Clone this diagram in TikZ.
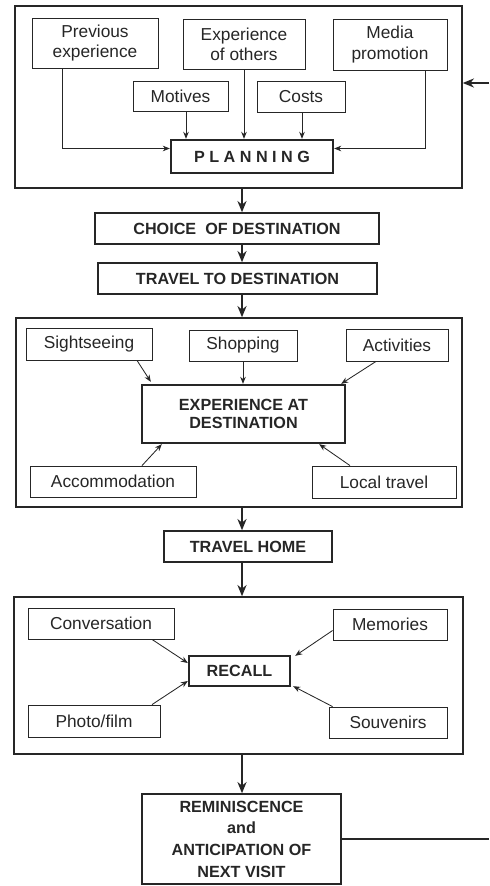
\documentclass[tikz,border=0pt]{standalone}
\usepackage{fontspec}
\setmainfont{Liberation Sans}
\usetikzlibrary{arrows.meta,positioning,calc}
\newlength{\px}\setlength{\px}{0.025cm}
\colorlet{ink}{black!85}

\begin{document}
\begin{tikzpicture}[x=\px,y=-\px,
    every node/.style={text=ink, align=center, inner sep=0pt},
    sz/.style 2 args={minimum width=#1\px, minimum height=#2\px},
    item/.style={draw=ink, line width=0.6pt, font=\fontsize{12.3}{14.3}\selectfont},
    stage/.style={draw=ink, line width=1.1pt, font=\fontsize{11.5}{13}\selectfont\bfseries},
    core/.style={stage, line width=1.7pt},
    frame/.style={draw=ink, line width=1.1pt},
    flow/.style={draw=ink, line width=1.1pt, -{Stealth[length=8pt,width=6.5pt]}},
    feed/.style={draw=ink, line width=0.6pt, -{Stealth[length=5pt,width=4pt]}}]
    \useasboundingbox (0,0) rectangle (489,886);
    \coordinate (spine) at (242,0);

    % Planning
    \node[frame, sz={447}{182}] (planframe) at (238.5,97) {};
    \node[item, sz={126}{50}] (prev) at (95,43) {Previous\\experience};
    \node[item, sz={122}{50}] (others) at (244,44) {Experience\\of others};
    \node[item, sz={114}{51}] (media) at (390,44.5) {Media\\promotion};
    \node[item, sz={95}{30}] (motives) at (180.5,96) {Motives};
    \node[item, sz={88}{31}] (costs) at (301,96.5) {Costs};
    \node[core, sz={162}{33}] (planning) at (252,156.5) {P L A N N I N G};

    \coordinate (motivesout) at ($(motives.south)+(5.5,0)$);
    \coordinate (costsout) at ($(costs.south)+(1,0)$);
    \draw[feed] ($(prev.south)+(-33,0)$) |- ($(planning.west)+(0,-8)$);
    \draw[feed] ($(media.south)+(35,0)$) |- ($(planning.east)+(0,-8)$);
    \draw[feed] (motivesout) -- (motivesout |- planning.north);
    \draw[feed] (others.south) -- (others.south |- planning.north);
    \draw[feed] (costsout) -- (costsout |- planning.north);

    % Main stages
    \node[stage, sz={284}{31}] (choice) at (237,228.5) {CHOICE\ \ OF DESTINATION};
    \node[stage, sz={279}{31}] (travelto) at (237.5,278.5) {TRAVEL TO DESTINATION};

    \draw[flow] (planframe.south -| spine) -- (choice.north -| spine);
    \draw[flow] (choice.south -| spine) -- (travelto.north -| spine);

    % Experience at destination
    \node[frame, sz={446}{189}] (expframe) at (239,412.5) {};
    \node[item, sz={126}{32}] (sight) at (89,344) {Sightseeing};
    \node[item, sz={108}{31}] (shop) at (243,345.5) {Shopping};
    \node[item, sz={102}{32}] (activ) at (397,345) {Activities};
    \node[core, sz={203}{58}] (expdest) at (243.5,414) {EXPERIENCE AT\\DESTINATION};
    \node[item, sz={166}{31}] (accom) at (113,481.5) {Accommodation};
    \node[item, sz={144}{32}] (local) at (384,482) {Local travel};

    \draw[flow] (travelto.south -| spine) -- (expframe.north -| spine);
    \draw[feed] ($(sight.south)+(48,0)$) -- ($(expdest.north west)+(10,-2)$);
    \draw[feed] (shop.south) -- (shop.south |- expdest.north);
    \draw[feed] ($(activ.south)+(-21,0)$) -- ($(expdest.north east)+(-5,0)$);
    \draw[feed] ($(accom.north)+(29,0)$) -- ($(expdest.south west)+(21,0)$);
    \draw[feed] ($(local.north)+(-34,0)$) -- ($(expdest.south east)+(-27,0)$);

    % Travel home
    \node[stage, sz={168}{31}] (travelhome) at (248,546.5) {TRAVEL HOME};
    \draw[flow] (expframe.south -| spine) -- (travelhome.north -| spine);

    % Recall
    \node[frame, sz={449}{157}] (recframe) at (238.5,675.5) {};
    \node[item, sz={146}{31}] (conv) at (101,623.5) {Conversation};
    \node[item, sz={114}{31}] (memo) at (390,624.5) {Memories};
    \node[core, sz={101}{30}] (recall) at (239.5,671) {RECALL};
    \node[item, sz={132}{32}] (photo) at (94,721) {Photo/film};
    \node[item, sz={118}{31}] (souv) at (388,722.5) {Souvenirs};

    \draw[flow] (travelhome.south -| spine) -- (recframe.north -| spine);
    \draw[feed] ($(conv.south)+(51,0)$) -- ($(recall.west)+(0,-8)$);
    \draw[feed] ($(memo.west)+(0,6)$) -- ($(recall.north east)+(4,1)$);
    \draw[feed] ($(photo.north)+(58,0)$) -- ($(recall.west)+(0,10)$);
    \draw[feed] ($(souv.north west)+(4,0)$) -- ($(recall.south east)+(2,-1)$);

    % Reminiscence and feedback
    \node[stage, sz={199}{90}, font=\fontsize{11.5}{15.4}\selectfont\bfseries] (remin) at (241.5,839)
        {REMINISCENCE\\and\\ANTICIPATION OF\\NEXT VISIT};
    \draw[flow] (recframe.south -| spine) -- (remin.north -| spine);

    \coordinate (fbout) at (489,839);
    \coordinate (fbin) at (489,83);
    \draw[draw=ink, line width=1.1pt] (remin.east) -- (fbout);
    \draw[flow] (fbin) -- (planframe.east |- fbin);
\end{tikzpicture}
\end{document}
